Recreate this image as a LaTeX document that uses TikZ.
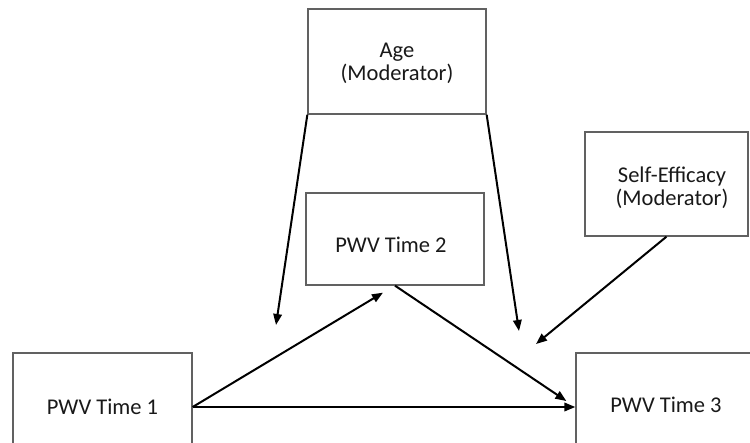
\documentclass[tikz,border=0pt]{standalone}
\usepackage{fontspec}
\setmainfont{Carlito}
\usetikzlibrary{arrows.meta}
\begin{document}
\begin{tikzpicture}[x=1pt,y=-1pt,
  box/.style={draw=black!62, line width=1.3pt, fill=white, inner sep=0pt},
  lbl/.style={align=center, inner sep=0pt, text=black!90,
    font=\fontsize{22.5}{23}\selectfont},
  link/.style={line width=2pt, -{Triangle[length=11pt,width=8.5pt]}}]
\useasboundingbox (0,0) rectangle (750,442);

% variable boxes
\node[box, minimum width=178pt, minimum height=105pt] (age) at (397,61.5) {};
\node[lbl] (agetxt) at (397,63) {Age\\(Moderator)};

\node[box, minimum width=163pt, minimum height=104pt] (se) at (666.5,184) {};
\node[lbl] (setxt) at (672,188) {Self-Efficacy\\(Moderator)};

\node[box, minimum width=178pt, minimum height=92pt] (t2) at (395,239) {};
\node[lbl] (t2txt) at (391,245) {PWV Time 2};

\node[box, minimum width=179pt, minimum height=108pt] (t1) at (102.5,407) {};
\node[lbl] (t1txt) at (102.5,407) {PWV Time 1};

\node[box, minimum width=180pt, minimum height=108pt] (t3) at (666,407) {};
\node[lbl] (t3txt) at (666,405) {PWV Time 3};

% free ends of the moderator arrows
\coordinate (ageL) at (276,325);
\coordinate (ageR) at (519,331);
\coordinate (seEnd) at (536,344);

% moderator arrows
\draw[link] (age.south west) -- (ageL);
\draw[link] (age.south east) -- (ageR);
\draw[link] (se.south) -- (seEnd);

% paths between the measurement times
\draw[link] (t1.east) -- ([xshift=-12pt,yshift=-7pt]t2.south);
\draw[link] (t2.south) -- ([xshift=-9pt,yshift=6pt]t3.west);
\draw[link] (t1.east) -- (t3.west);
\end{tikzpicture}
\end{document}
